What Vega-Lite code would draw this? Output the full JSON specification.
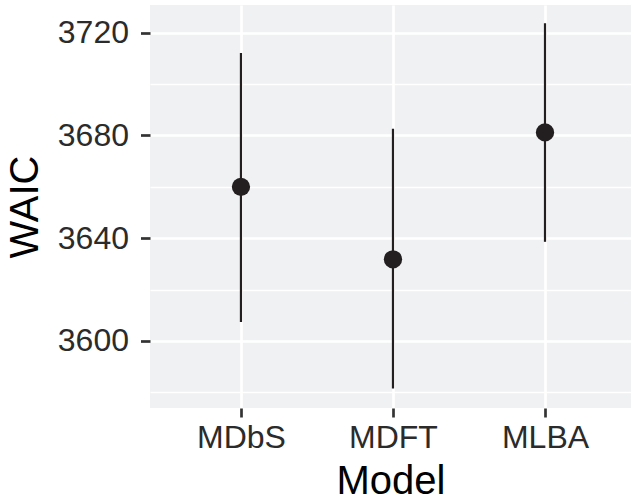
{
  "$schema": "https://vega.github.io/schema/vega-lite/v6.json",
  "autosize": {"type": "none"},
  "width": 481,
  "height": 403,
  "padding": {"left": 150, "top": 5, "right": 0, "bottom": 93},
  "background": "white",
  "data": {"values": [
    {"Model": "MDbS", "WAIC": 3660, "lo": 3607.4, "hi": 3712.1},
    {"Model": "MDFT", "WAIC": 3631.8, "lo": 3581.5, "hi": 3682.6},
    {"Model": "MLBA", "WAIC": 3681.2, "lo": 3638.6, "hi": 3723.7}
  ]},
  "encoding": {
    "x": {
      "field": "Model", "type": "nominal", "sort": ["MDbS", "MDFT", "MLBA"],
      "scale": {"type": "point", "padding": 0.582, "align": 0.514},
      "axis": {
        "title": "Model", "labelAngle": 0, "grid": true, "gridColor": "white", "gridWidth": 2.7,
        "domain": false, "tickSize": 9, "tickWidth": 2.7, "tickColor": "#333333",
        "labelFontSize": 32, "labelColor": "#2b2b2b", "labelPadding": 5,
        "titleFontSize": 40, "titleFontWeight": "normal", "titleColor": "#000000", "titlePadding": 8
      }
    }
  },
  "layer": [
    {
      "mark": {"type": "rule", "color": "#231f20", "strokeWidth": 2.2},
      "encoding": {
        "y": {
          "field": "lo", "type": "quantitative",
          "scale": {"domain": [3573.9, 3730.8], "nice": false, "zero": false},
          "axis": {
            "title": "WAIC", "values": [3600, 3640, 3680, 3720], "format": "d", "grid": true, "gridColor": "white", "gridWidth": 2.7,
            "domain": false, "tickSize": 9.5, "tickWidth": 2.7, "tickColor": "#333333",
            "labelFontSize": 32, "labelColor": "#2b2b2b", "labelPadding": 12,
            "titleFontSize": 40, "titleFontWeight": "normal", "titleColor": "#000000", "titlePadding": 12
          }
        },
        "y2": {"field": "hi"}
      }
    },
    {
      "mark": {"type": "point", "filled": true, "opacity": 1, "color": "#231f20", "size": 335},
      "encoding": {
        "y": {
          "field": "WAIC", "type": "quantitative",
          "axis": {
            "title": null, "orient": "left", "values": [3580, 3620, 3660, 3700], "grid": true, "gridColor": "white", "gridWidth": 1.3,
            "labels": false, "ticks": false, "domain": false
          }
        }
      }
    }
  ],
  "resolve": {"axis": {"y": "independent"}},
  "config": {
    "font": "Liberation Sans",
    "view": {"fill": "#F0F1F3", "stroke": null}
  }
}
